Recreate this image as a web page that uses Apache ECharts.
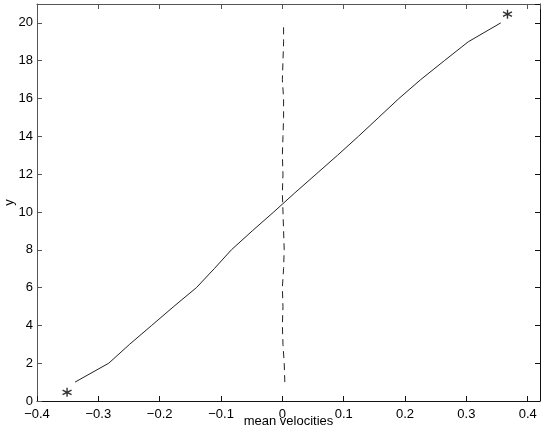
<!DOCTYPE html>
<html>
<head>
<meta charset="utf-8">
<script src="https://cdn.jsdelivr.net/npm/echarts@6/dist/echarts.min.js"></script>
<style>
  html, body { margin: 0; padding: 0; background: #fff; }
  #chart { width: 545px; height: 436px; }
</style>
</head>
<body>
<div id="chart"></div>
<script>
// y levels (1..20) and the two velocity profiles
const yLevels = [1, 2, 3, 4, 5, 6, 7, 8, 9, 10, 11, 12, 13, 14, 15, 16, 17, 18, 19, 20];
const meanVel = [-0.338, -0.283, -0.249, -0.213, -0.177, -0.140, -0.111, -0.083, -0.049, -0.014,
                 0.020, 0.055, 0.090, 0.124, 0.157, 0.190, 0.2255, 0.264, 0.303, 0.356];
const dashVel = [0.004, 0.003, 0.001, 0.000, 0.001, 0.000, 0.002, 0.003, 0.002, 0.001,
                 0.000, 0.001, 0.000, 0.001, 0.002, 0.002, 0.000, 0.001, 0.002, 0.002];
// end markers
const starX = [-0.351, 0.367];
const starY = [0.46, 20.46];

const xTicks = { min: -0.4, max: 0.42, step: 0.1 };
const yTicks = { min: 0, max: 21, step: 2 };

const font = "'Liberation Sans', Arial, sans-serif";
const asterisk = 'path://M0,-5L0,5M-4.33,-2.5L4.33,2.5M-4.33,2.5L4.33,-2.5';

const chart = echarts.init(document.getElementById('chart'));

// axis helper: box-style axes with inward ticks
const axisBase = (pos, color, labels) => ({
  type: 'value',
  position: pos,
  splitLine: { show: false },
  axisLine: { show: true, onZero: false, lineStyle: { color: color, width: 1 } },
  axisTick: { show: true, inside: true, length: 5, lineStyle: { color: color } },
  axisLabel: {
    show: labels,
    color: '#000',
    fontFamily: font,
    fontSize: 13,
    showMaxLabel: false,
    formatter: v => (v === 0 ? '0' : String(+v.toFixed(1)).replace('-', '\u2212'))
  }
});

const xBottom = Object.assign(axisBase('bottom', '#111', true), {
  min: xTicks.min, max: xTicks.max, interval: xTicks.step,
  name: 'mean velocities', nameLocation: 'middle', nameGap: 14, nameMoveOverlap: false,
  nameTextStyle: { color: '#000', fontFamily: font, fontSize: 13 }
});
xBottom.axisLabel.margin = 7;
const xTop = Object.assign(axisBase('top', '#555', false), {
  min: xTicks.min, max: xTicks.max, interval: xTicks.step
});
const yLeft = Object.assign(axisBase('left', '#555', true), {
  min: yTicks.min, max: yTicks.max, interval: yTicks.step,
  name: 'y', nameLocation: 'middle', nameGap: 21, nameMoveOverlap: false,
  nameTextStyle: { color: '#000', fontFamily: font, fontSize: 13 }
});
yLeft.axisLabel.margin = 4;
yLeft.axisLabel.formatter = v => String(v);
const yRight = Object.assign(axisBase('right', '#111', false), {
  min: yTicks.min, max: yTicks.max, interval: yTicks.step
});

chart.setOption({
  backgroundColor: '#fff',
  animation: false,
  grid: { left: 37, right: 5, top: 4, bottom: 35, containLabel: false, outerBoundsMode: 'none' },
  xAxis: [xBottom, xTop],
  yAxis: [yLeft, yRight],
  series: [
    {
      type: 'line',
      data: yLevels.map((y, i) => [meanVel[i], y]),
      showSymbol: false,
      lineStyle: { color: '#222', width: 1 }
    },
    {
      type: 'line',
      data: yLevels.map((y, i) => [dashVel[i], y]),
      showSymbol: false,
      lineStyle: { color: '#222', width: 1, type: [7, 5] }
    },
    {
      type: 'scatter',
      data: starX.map((x, i) => [x, starY[i]]),
      symbol: asterisk,
      symbolSize: 9,
      itemStyle: { color: 'none', borderColor: '#000', borderWidth: 1.4 }
    }
  ]
});
</script>
</body>
</html>
